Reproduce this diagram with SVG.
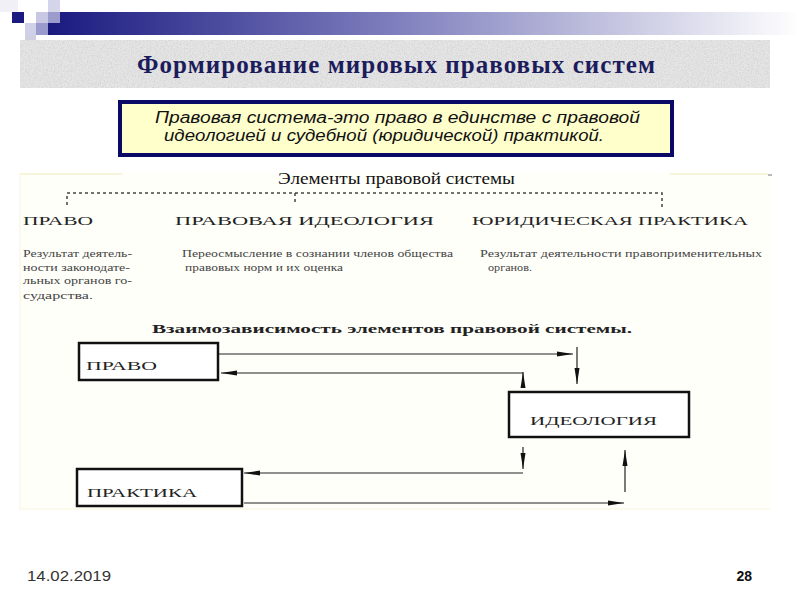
<svg xmlns="http://www.w3.org/2000/svg" width="800" height="600" viewBox="0 0 800 600">
<defs>
<linearGradient id="bar" x1="0" y1="0" x2="1" y2="0">
<stop offset="0" stop-color="#1a1a80"/>
<stop offset="0.45" stop-color="#7c7cbc"/>
<stop offset="0.75" stop-color="#c4c4e0"/>
<stop offset="1" stop-color="#ffffff"/>
</linearGradient>
<filter id="grain" x="0" y="0" width="1" height="1">
<feTurbulence type="fractalNoise" baseFrequency="0.7" numOctaves="3" seed="4"/>
<feColorMatrix type="matrix" values="0 0 0 0 0.6  0 0 0 0 0.6  0 0 0 0 0.6  1.4 0 0 0 -0.5"/>
</filter>
<marker id="ah" viewBox="0 0 16 6" refX="16" refY="3" markerWidth="16" markerHeight="6" orient="auto" markerUnits="userSpaceOnUse">
<path d="M0,0.5 L16,3 L0,5.5 Z" fill="#111"/>
</marker>
<style>
.serif{font-family:"Liberation Serif","Times New Roman",serif}
.sans{font-family:"Liberation Sans",Arial,sans-serif}
.box{fill:#fff;stroke:#111;stroke-width:2.5}
.lbl{font-family:"Liberation Serif","Times New Roman",serif;font-size:13px;fill:#222}
.head{font-family:"Liberation Serif","Times New Roman",serif;font-size:13.5px;fill:#222}
.small{font-family:"Liberation Serif","Times New Roman",serif;font-size:9.5px;fill:#444}
.conn line{stroke:#222;stroke-width:1.2}
.dash{stroke:#444;stroke-width:1.5;stroke-dasharray:3 3;fill:none}
</style>
</defs>

<rect width="800" height="600" fill="#fff"/>

<!-- header decoration -->
<g id="header">
<rect x="48" y="12" width="752" height="23" fill="url(#bar)"/>
<rect x="48" y="0" width="12" height="12" fill="#d4d4ea"/>
<rect x="0" y="0" width="18" height="12" fill="#f0f0f6"/>
<rect x="12" y="12" width="12" height="11" fill="#1a1a80"/>
<rect x="36" y="12" width="12" height="11" fill="#c8c8e4"/>
<rect x="48" y="12" width="12" height="11" fill="#9c9ccc"/>
<rect x="25" y="23" width="11" height="12" fill="#d0d0e8"/>
<rect x="36" y="23" width="12" height="12" fill="#9a9acc"/>
<rect x="25" y="35" width="11" height="5" fill="#cfcfdf"/>
</g>

<!-- title -->
<g id="title">
<rect x="20" y="40" width="750" height="48" fill="#e6e6e6"/>
<rect x="20" y="40" width="750" height="48" filter="url(#grain)"/>
<text x="137" y="73" class="serif" font-size="25" font-weight="bold" fill="#1c1c5c" textLength="518">Формирование мировых правовых систем</text>
</g>

<!-- definition -->
<g id="definition">
<rect x="122" y="104" width="552" height="53" fill="#cfcfd8"/>
<rect x="120" y="102" width="552" height="53" fill="#ffffcc" stroke="#0a0a66" stroke-width="4"/>
<text x="155" y="123" class="sans" font-size="16" font-style="italic" fill="#111" textLength="485" lengthAdjust="spacingAndGlyphs">Правовая система-это право в единстве с правовой</text>
<text x="164" y="141" class="sans" font-size="16" font-style="italic" fill="#111" textLength="440" lengthAdjust="spacingAndGlyphs">идеологией и судебной (юридической) практикой.</text>
</g>

<!-- panel -->
<g id="panel">
<rect x="20" y="173" width="750" height="337" fill="#fffffa"/>
<line x1="20" y1="174" x2="122" y2="174" stroke="#f6f1cf" stroke-width="1.5"/>
<line x1="670" y1="174" x2="768" y2="174" stroke="#f6f1cf" stroke-width="1.5"/>
<line x1="20" y1="174" x2="20" y2="510" stroke="#f8f5e0" stroke-width="1"/>
<line x1="20" y1="509" x2="770" y2="509" stroke="#f8f5e0" stroke-width="1"/>
<line x1="768" y1="175" x2="772" y2="175" stroke="#777" stroke-width="1"/>
</g>

<!-- elements -->
<g id="elements">
<text x="278" y="184" class="serif" font-size="17" fill="#111" textLength="237" lengthAdjust="spacingAndGlyphs">Элементы правовой системы</text>
<path class="dash" d="M67,205 V193 H662 V207 M295,193 V205"/>
</g>

<g id="el-pravo">
<text x="23" y="225" class="head" textLength="70" lengthAdjust="spacingAndGlyphs">ПРАВО</text>
<text x="23" y="257" class="small" textLength="109" lengthAdjust="spacingAndGlyphs">Результат деятель-</text>
<text x="23" y="271" class="small" textLength="107" lengthAdjust="spacingAndGlyphs">ности законодате-</text>
<text x="23" y="284" class="small" textLength="109" lengthAdjust="spacingAndGlyphs">льных органов го-</text>
<text x="23" y="299" class="small" textLength="70" lengthAdjust="spacingAndGlyphs">сударства.</text>
</g>

<g id="el-ideologiya">
<text x="175" y="225" class="head" textLength="259" lengthAdjust="spacingAndGlyphs">ПРАВОВАЯ ИДЕОЛОГИЯ</text>
<text x="182" y="257" class="small" textLength="271" lengthAdjust="spacingAndGlyphs">Переосмысление в сознании членов общества</text>
<text x="185" y="271" class="small" textLength="158" lengthAdjust="spacingAndGlyphs">правовых норм и их оценка</text>
</g>

<g id="el-praktika">
<text x="472" y="225" class="head" textLength="276" lengthAdjust="spacingAndGlyphs">ЮРИДИЧЕСКАЯ ПРАКТИКА</text>
<text x="480" y="257" class="small" textLength="282" lengthAdjust="spacingAndGlyphs">Результат деятельности правоприменительных</text>
<text x="488" y="271" class="small" textLength="44" lengthAdjust="spacingAndGlyphs">органов.</text>
</g>

<!-- interdependence -->
<text x="152" y="333" class="serif" font-size="12.5" font-weight="bold" fill="#222" textLength="480" lengthAdjust="spacingAndGlyphs">Взаимозависимость элементов правовой системы.</text>

<g id="node-pravo">
<rect x="79" y="343" width="139" height="37" class="box"/>
<text x="86" y="370" class="lbl" textLength="71" lengthAdjust="spacingAndGlyphs">ПРАВО</text>
</g>

<g id="node-ideologiya">
<rect x="509" y="392" width="180" height="45" class="box"/>
<text x="530" y="425" class="lbl" textLength="127" lengthAdjust="spacingAndGlyphs">ИДЕОЛОГИЯ</text>
</g>

<g id="node-praktika">
<rect x="77" y="469" width="165" height="37" class="box"/>
<text x="87" y="497" class="lbl" textLength="110" lengthAdjust="spacingAndGlyphs">ПРАКТИКА</text>
</g>

<g id="connectors" class="conn">
<line x1="219" y1="354" x2="573" y2="354" marker-end="url(#ah)"/>
<line x1="577" y1="347" x2="577" y2="384" marker-end="url(#ah)"/>
<line x1="523" y1="386" x2="523" y2="372" marker-end="url(#ah)"/>
<line x1="523" y1="373" x2="221" y2="373" marker-end="url(#ah)"/>
<line x1="523" y1="447" x2="523" y2="469" marker-end="url(#ah)"/>
<line x1="523" y1="473" x2="244" y2="473" marker-end="url(#ah)"/>
<line x1="244" y1="503" x2="624" y2="503" marker-end="url(#ah)"/>
<line x1="625" y1="492" x2="625" y2="450" marker-end="url(#ah)"/>
</g>

<!-- footer -->
<text x="27" y="581" class="sans" font-size="14" fill="#333" textLength="84" lengthAdjust="spacingAndGlyphs">14.02.2019</text>
<text x="752" y="581" class="sans" font-size="14" font-weight="bold" fill="#111" text-anchor="end">28</text>
</svg>
